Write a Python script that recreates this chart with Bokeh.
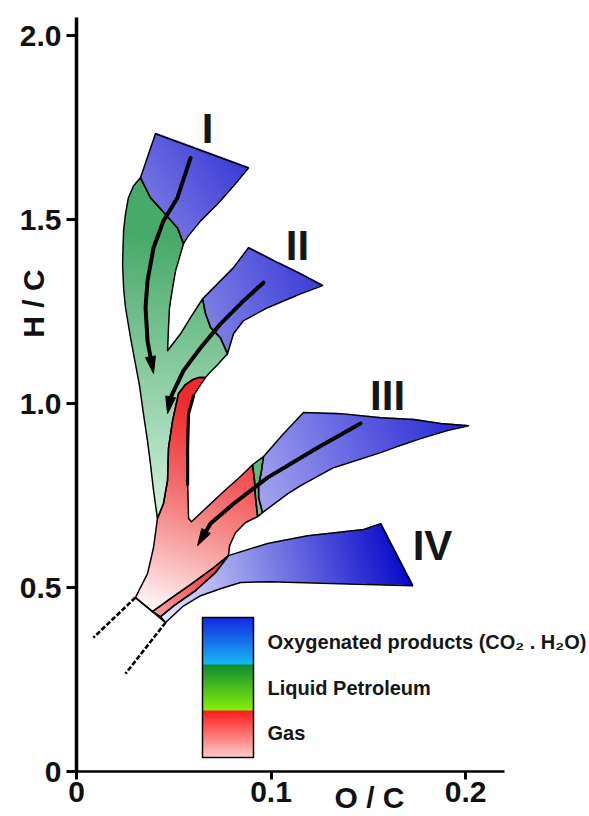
import numpy as np
from bokeh.plotting import figure
from bokeh.models import Label, FixedTicker, Range1d, LinearAxis
from bokeh.core.properties import value
from bokeh.embed import file_html
from bokeh.resources import INLINE

# ---------------- data ----------------
X_TICKS = [0, 0.1, 0.2]
X_TICK_LABELS = ["0", "0.1", "0.2"]
Y_TICKS = [0, 0.5, 1.0, 1.5, 2.0]
Y_TICK_LABELS = ["0", "0.5", "1.0", "1.5", "2.0"]
X_TITLE = "O / C"
Y_TITLE = "H / C"
X_AXIS_END = 0.22
Y_AXIS_END = 2.05

PATH_NAMES = ["I", "II", "III", "IV"]
PATH_LABEL_X = [0.0674, 0.1136, 0.1599, 0.1830]
PATH_LABEL_Y = [1.747, 1.429, 1.022, 0.614]

LEGEND_TEXTS = ["Oxygenated products (CO\u2082 . H\u2082O)", "Liquid Petroleum", "Gas"]

# region outlines (O/C, H/C)
I_BLUE_X = [0.0406, 0.0535, 0.0689, 0.0884, 0.0807, 0.0725, 0.0638, 0.0576, 0.0550, 0.0519, 0.0442, 0.0380, 0.0329]
I_BLUE_Y = [1.734, 1.709, 1.679, 1.641, 1.592, 1.543, 1.497, 1.457, 1.435, 1.478, 1.524, 1.560, 1.614]

GREEN_X = [0.0329, 0.0293, 0.0267, 0.0252, 0.0242, 0.0237, 0.0242, 0.0252, 0.0278, 0.0293, 0.0324, 0.0344,
           0.0365, 0.0380, 0.0396, 0.0416, 0.0447, 0.0468, 0.0473, 0.0494, 0.0524, 0.0560, 0.0596, 0.0627,
           0.0663, 0.0684, 0.0725, 0.0776, 0.0740, 0.0689, 0.0663, 0.0648, 0.0586, 0.0535, 0.0468, 0.0473,
           0.0478, 0.0494, 0.0509, 0.0535, 0.0550, 0.0519, 0.0442, 0.0380]
GREEN_Y = [1.614, 1.592, 1.560, 1.516, 1.470, 1.380, 1.315, 1.261, 1.179, 1.136, 1.049, 0.973,
           0.899, 0.837, 0.764, 0.688, 0.728, 0.791, 0.880, 0.954, 1.027, 1.052, 1.065, 1.071,
           1.071, 1.084, 1.106, 1.136, 1.179, 1.207, 1.245, 1.285, 1.234, 1.190, 1.144, 1.207,
           1.261, 1.315, 1.361, 1.408, 1.435, 1.478, 1.524, 1.560]

II_BLUE_X = [0.0884, 0.1013, 0.1152, 0.1265, 0.1152, 0.0982, 0.0859, 0.0807, 0.0776, 0.0740, 0.0689, 0.0663, 0.0648, 0.0725, 0.0807]
II_BLUE_Y = [1.424, 1.389, 1.353, 1.321, 1.299, 1.261, 1.226, 1.190, 1.136, 1.179, 1.207, 1.245, 1.285, 1.326, 1.370]

RED_X = [0.0627, 0.0663, 0.0638, 0.0602, 0.0576, 0.0571, 0.0571, 0.0576, 0.0591, 0.0740, 0.0843, 0.0905,
         0.0915, 0.0920, 0.0931, 0.0869, 0.0817, 0.0787, 0.0781, 0.0704, 0.0586, 0.0483, 0.0391, 0.0303,
         0.0365, 0.0396, 0.0411, 0.0416, 0.0447, 0.0468, 0.0473, 0.0494, 0.0524, 0.0560, 0.0596]
RED_Y = [1.071, 1.071, 1.052, 1.022, 0.973, 0.880, 0.791, 0.688, 0.679, 0.753, 0.802, 0.834,
         0.791, 0.745, 0.693, 0.677, 0.649, 0.614, 0.587, 0.554, 0.508, 0.470, 0.435, 0.473,
         0.538, 0.609, 0.668, 0.688, 0.728, 0.791, 0.880, 0.954, 1.027, 1.052, 1.065]

III_GREEN_X = [0.0905, 0.0961, 0.0951, 0.0936, 0.0936, 0.0956, 0.0931, 0.0920, 0.0915]
III_GREEN_Y = [0.834, 0.856, 0.818, 0.777, 0.745, 0.704, 0.693, 0.745, 0.791]

III_BLUE_X = [0.0961, 0.1064, 0.1167, 0.1357, 0.1563, 0.1733, 0.1871, 0.2015, 0.1907, 0.1769, 0.1630,
              0.1563, 0.1321, 0.1152, 0.1085, 0.0956, 0.0936, 0.0936, 0.0951]
III_BLUE_Y = [0.856, 0.918, 0.976, 0.973, 0.962, 0.957, 0.946, 0.940, 0.927, 0.905, 0.880,
              0.867, 0.826, 0.777, 0.755, 0.704, 0.745, 0.777, 0.818]

IV_RED_X = [0.0781, 0.0704, 0.0586, 0.0483, 0.0391, 0.0432, 0.0509, 0.0612, 0.0715]
IV_RED_Y = [0.587, 0.554, 0.508, 0.470, 0.435, 0.421, 0.454, 0.492, 0.541]

IV_BLUE_X = [0.0781, 0.0982, 0.1188, 0.1373, 0.1476, 0.1563, 0.1728, 0.1306, 0.0997, 0.0843, 0.0740,
             0.0638, 0.0545, 0.0458, 0.0432, 0.0509, 0.0612, 0.0715]
IV_BLUE_Y = [0.587, 0.620, 0.641, 0.652, 0.658, 0.674, 0.505, 0.511, 0.516, 0.514, 0.497,
             0.478, 0.448, 0.405, 0.421, 0.454, 0.492, 0.541]

CUT_X = [0.0303, 0.0458]
CUT_Y = [0.473, 0.405]
DASH1_X = [0.0303, 0.0087]
DASH1_Y = [0.473, 0.364]
DASH2_X = [0.0458, 0.0252]
DASH2_Y = [0.405, 0.266]

ARROW_I_X = [0.0586, 0.0519, 0.0447, 0.0396, 0.0365, 0.0355, 0.0365, 0.0396]
ARROW_I_Y = [1.668, 1.560, 1.497, 1.424, 1.334, 1.261, 1.171, 1.082]
ARROW_II_X = [0.0961, 0.0859, 0.0740, 0.0638, 0.0550, 0.0483, 0.0468]
ARROW_II_Y = [1.329, 1.280, 1.217, 1.152, 1.090, 1.016, 0.973]
ARROW_III_X = [0.1460, 0.1239, 0.0982, 0.0807, 0.0689, 0.0622]
ARROW_III_Y = [0.946, 0.880, 0.799, 0.728, 0.674, 0.614]

TONGUE_EDGE_X = [0.0602, 0.0576, 0.0571, 0.0571]
TONGUE_EDGE_Y = [1.022, 0.973, 0.880, 0.780]

# ---------------- layout / style ----------------
W, H = 589, 816
ORIGIN_PX = (76, 771)          # where (0, 0) sits on the page
SX = 428 / 0.22                # pixels per O/C unit
SY = 754 / 2.05                # pixels per H/C unit


def px2x(px):
    return (px - ORIGIN_PX[0]) / SX


def px2y(py):
    return (ORIGIN_PX[1] - py) / SY


# gradient styles: (start point, end point, start colour, end colour, gamma)
STYLE = {
    "green": ((0.050, 1.45), (0.040, 0.72), (72, 170, 106), (205, 238, 216), 1.0),
    "iblue": ((0.033, 1.47), (0.087, 1.66), (130, 130, 230), (58, 58, 214), 1.0),
    "iiblue": ((0.066, 1.21), (0.1265, 1.35), (130, 130, 230), (58, 58, 215), 1.0),
    "red": ((0.069, 1.008), (0.031, 0.465), (238, 42, 42), (255, 246, 246), 1.3),
    "iiigreen": ((0.092, 0.84), (0.093, 0.70), (88, 185, 120), (120, 200, 145), 1.0),
    "iiiblue": ((0.0956, 0.704), (0.2015, 0.94), (165, 165, 240), (36, 36, 212), 1.0),
    "ivred": ((0.078, 0.587), (0.039, 0.435), (235, 35, 35), (250, 160, 160), 1.0),
    "ivblue": ((0.046, 0.42), (0.1728, 0.60), (228, 232, 252), (0, 0, 200), 1.0),
}

REGIONS = [
    (GREEN_X, GREEN_Y, "green"),
    (I_BLUE_X, I_BLUE_Y, "iblue"),
    (II_BLUE_X, II_BLUE_Y, "iiblue"),
    (RED_X, RED_Y, "red"),
    (III_GREEN_X, III_GREEN_Y, "iiigreen"),
    (III_BLUE_X, III_BLUE_Y, "iiiblue"),
    (IV_RED_X, IV_RED_Y, "ivred"),
    (IV_BLUE_X, IV_BLUE_Y, "ivblue"),
]

# ---------------- raster fill of the regions ----------------
IX0, IX1, IY0, IY1 = 0.0, 0.21, 0.38, 1.78
SS = 2
nx = int(round((IX1 - IX0) * SX)) * SS
ny = int(round((IY1 - IY0) * SY)) * SS
gx = IX0 + (np.arange(nx) + 0.5) * (IX1 - IX0) / nx
gy = IY0 + (np.arange(ny) + 0.5) * (IY1 - IY0) / ny
GX, GY = np.meshgrid(gx, gy)


def inside(xs, ys):
    res = np.zeros(GX.shape, dtype=bool)
    n = len(xs)
    j = n - 1
    for i in range(n):
        xi, yi, xj, yj = xs[i], ys[i], xs[j], ys[j]
        if yi != yj:
            cond = ((yi > GY) != (yj > GY)) & (GX < (xj - xi) * (GY - yi) / (yj - yi) + xi)
            res ^= cond
        j = i
    return res


def gradient(style):
    p0, p1, c0, c1, gam = style
    ax, ay = p0[0] * SX, p0[1] * SY
    bx, by = p1[0] * SX, p1[1] * SY
    dx, dy = bx - ax, by - ay
    t = ((GX * SX - ax) * dx + (GY * SY - ay) * dy) / (dx * dx + dy * dy)
    t = np.clip(t, 0, 1) ** gam
    c0 = np.array(c0, float)
    c1 = np.array(c1, float)
    return c0 + (c1 - c0) * t[..., None]


col = np.zeros((ny, nx, 3))
alpha = np.zeros((ny, nx))
for xs, ys, key in REGIONS:
    m = inside(xs, ys)
    g = gradient(STYLE[key])
    col[m] = g[m]
    alpha[m] = 1.0

col = col.reshape(ny // SS, SS, nx // SS, SS, 3)
alpha = alpha.reshape(ny // SS, SS, nx // SS, SS)
a = alpha.mean(axis=(1, 3))
c = (col * alpha[..., None]).sum(axis=(1, 3)) / np.maximum(alpha.sum(axis=(1, 3)), 1e-9)[..., None]
rgba = np.zeros((ny // SS, nx // SS, 4), dtype=np.uint8)
rgba[..., :3] = np.clip(c, 0, 255).astype(np.uint8)
rgba[..., 3] = np.clip(a * 255, 0, 255).astype(np.uint8)
img = rgba.view(np.uint32).reshape(ny // SS, nx // SS)

# ---------------- figure ----------------
p = figure(width=W, height=H,
           x_range=Range1d(px2x(0), px2x(W)), y_range=Range1d(px2y(H), px2y(0)),
           output_backend="svg", toolbar_location=None,
           x_axis_location=None, y_axis_location=None,
           min_border=0, min_border_left=0, min_border_right=0, min_border_top=0, min_border_bottom=0)
p.grid.visible = False
p.outline_line_color = None
p.background_fill_color = "white"
p.border_fill_color = "white"

TICK_FONT = "'Liberation Sans', Arial, sans-serif"

xaxis = LinearAxis(fixed_location=0, bounds=(0, X_AXIS_END), ticker=FixedTicker(ticks=X_TICKS),
                   major_label_overrides=dict(zip(X_TICKS, X_TICK_LABELS)))
yaxis = LinearAxis(fixed_location=0, bounds=(0, Y_AXIS_END), ticker=FixedTicker(ticks=Y_TICKS),
                   major_label_overrides=dict(zip(Y_TICKS, Y_TICK_LABELS)))
for ax in (xaxis, yaxis):
    ax.major_label_text_font = TICK_FONT
    ax.major_label_text_font_style = "bold"
    ax.major_label_text_font_size = "30px"
    ax.major_label_text_color = "#111111"
    ax.minor_tick_line_color = None
    ax.major_tick_in = 0
    ax.axis_line_color = "black"
    ax.major_tick_line_color = "black"
    ax.major_tick_line_width = 3
xaxis.axis_line_width = 2.5
xaxis.major_tick_out = 8
xaxis.major_label_standoff = 2
yaxis.axis_line_width = 3.5
yaxis.major_tick_out = 10
yaxis.major_label_standoff = 5
p.add_layout(xaxis, "below")
p.add_layout(yaxis, "left")

p.image_rgba(image=[img], x=IX0, y=IY0, dw=IX1 - IX0, dh=IY1 - IY0)

p.patches([r[0] for r in REGIONS], [r[1] for r in REGIONS], fill_color=None,
          line_color="black", line_width=1.5, line_join="round")

p.line(CUT_X, CUT_Y, line_color="black", line_width=1.6)
for xs, ys in ((DASH1_X, DASH1_Y), (DASH2_X, DASH2_Y)):
    p.line(xs, ys, line_color="black", line_width=2.6, line_dash="5 2")

p.line(TONGUE_EDGE_X, TONGUE_EDGE_Y, line_color="black", line_width=3.2, line_cap="round")


def arrow(xs, ys, length=17.0, half=5.0, width=4.0):
    x1, y1 = xs[-1] * SX, ys[-1] * SY
    x0, y0 = xs[-2] * SX, ys[-2] * SY
    d = np.hypot(x1 - x0, y1 - y0)
    ux, uy = (x1 - x0) / d, (y1 - y0) / d
    bx, by = x1 - ux * length, y1 - uy * length
    nxv, nyv = -uy, ux
    hx = [x1 / SX, (bx + nxv * half) / SX, (bx - nxv * half) / SX]
    hy = [y1 / SY, (by + nyv * half) / SY, (by - nyv * half) / SY]
    lx = list(xs[:-1]) + [(bx + ux * 4) / SX]
    ly = list(ys[:-1]) + [(by + uy * 4) / SY]
    p.line(lx, ly, line_color="black", line_width=width, line_cap="round", line_join="round")
    p.patch(hx, hy, fill_color="black", line_color="black", line_width=1)


arrow(ARROW_I_X, ARROW_I_Y)
arrow(ARROW_II_X, ARROW_II_Y)
arrow(ARROW_III_X, ARROW_III_Y)

p.text(PATH_LABEL_X, PATH_LABEL_Y, text=PATH_NAMES, text_font=value("Liberation Sans"),
       text_font_style="bold", text_font_size="42px", text_color="#161616",
       text_align="center", text_baseline="middle")

# ---------------- colour key ----------------
LEG_L, LEG_R = 202, 253
LEG_EDGES = [617, 664, 710, 757]
LEG_COLOURS = [((20, 40, 225), (25, 185, 245)),
               ((15, 140, 50), (135, 240, 10)),
               ((255, 25, 25), (255, 205, 205))]
rows = []
for k in range(3):
    n = LEG_EDGES[k + 1] - LEG_EDGES[k]
    c0 = np.array(LEG_COLOURS[k][0], float)
    c1 = np.array(LEG_COLOURS[k][1], float)
    for i in range(n):
        t = (i + 0.5) / n
        rows.append(c0 + (c1 - c0) * t)
rows = np.array(rows[::-1])
leg = np.zeros((len(rows), 1, 4), dtype=np.uint8)
leg[:, 0, :3] = rows.astype(np.uint8)
leg[:, 0, 3] = 255
leg_img = leg.view(np.uint32).reshape(len(rows), 1)
p.image_rgba(image=[leg_img], x=px2x(LEG_L), y=px2y(LEG_EDGES[-1]),
             dw=px2x(LEG_R) - px2x(LEG_L), dh=px2y(LEG_EDGES[0]) - px2y(LEG_EDGES[-1]))
p.quad(left=[px2x(LEG_L)], right=[px2x(LEG_R)], bottom=[px2y(LEG_EDGES[-1])], top=[px2y(LEG_EDGES[0])],
       fill_color=None, line_color="black", line_width=1.5)

LEG_TEXT_Y_PX = [641, 687, 732]
p.text([px2x(267)] * 3, [px2y(v) for v in LEG_TEXT_Y_PX], text=LEGEND_TEXTS,
       text_font=value("Liberation Sans"), text_font_style="bold", text_font_size="20px",
       text_color="#161616", text_align="left", text_baseline="middle")

# ---------------- axis titles ----------------
p.add_layout(Label(x=px2x(369), y=px2y(797), text=X_TITLE, text_font=TICK_FONT,
                   text_font_style="bold", text_font_size="30px", text_color="#111111",
                   text_align="center", text_baseline="middle"))
p.add_layout(Label(x=px2x(33), y=px2y(303), text=Y_TITLE, text_font=TICK_FONT,
                   text_font_style="bold", text_font_size="30px", text_color="#111111",
                   text_align="center", text_baseline="middle", angle=np.pi / 2))

open("out.html", "w").write(file_html(p, INLINE))
